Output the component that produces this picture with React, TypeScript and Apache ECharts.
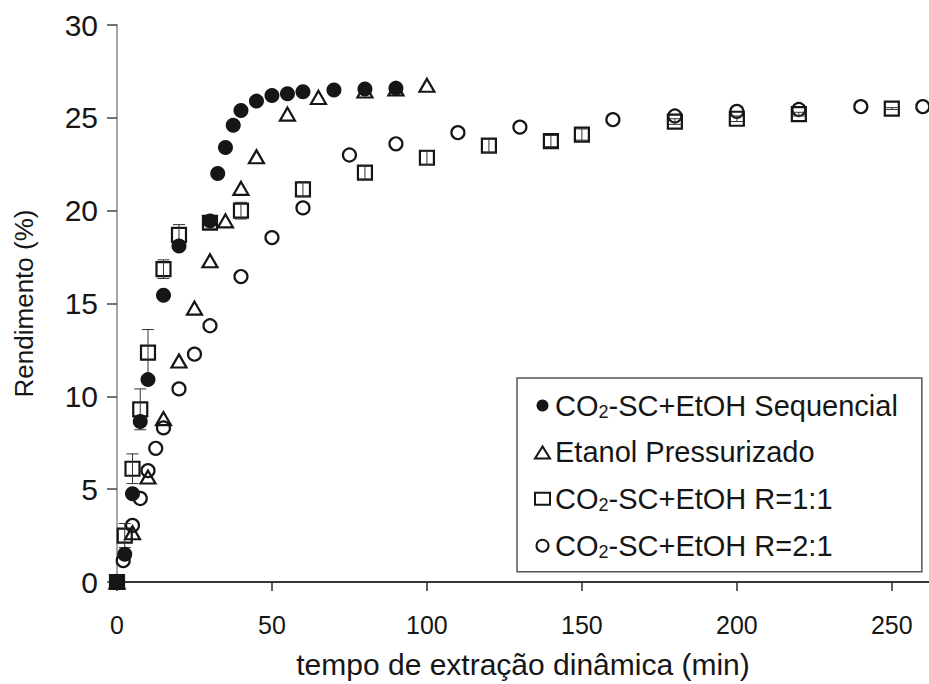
import React, { useEffect, useRef } from "react";
import * as echarts from "echarts";

// Extraction time (min) and yield (%) for each extraction method
const tSequencial = [0, 2.5, 5, 7.5, 10, 15, 20, 30, 32.5, 35, 37.5, 40, 45, 50, 55, 60, 70, 80, 90];
const ySequencial = [0, 1.5, 4.75, 8.65, 10.9, 15.45, 18.1, 19.45, 22.0, 23.4, 24.6, 25.4, 25.9, 26.2, 26.3, 26.4, 26.5, 26.55, 26.6];

const tEtanol = [0, 5, 10, 15, 20, 25, 30, 35, 40, 45, 55, 65, 80, 90, 100];
const yEtanol = [0, 2.65, 5.65, 8.8, 11.9, 14.75, 17.3, 19.45, 21.2, 22.9, 25.2, 26.1, 26.45, 26.55, 26.75];

const tR11 = [0, 2.5, 5, 7.5, 10, 15, 20, 30, 40, 60, 80, 100, 120, 140, 150, 180, 200, 220, 250];
const yR11 = [0, 2.5, 6.1, 9.3, 12.35, 16.85, 18.7, 19.35, 20.0, 21.15, 22.05, 22.85, 23.5, 23.75, 24.1, 24.8, 24.95, 25.2, 25.5];
const errR11 = [0, 0.65, 0.8, 1.1, 1.25, 0.5, 0.55, 0.3, 0.45, 0.4, 0.35, 0.35, 0.35, 0.3, 0.3, 0.15, 0.15, 0.1, 0.05];

const tR21 = [0, 2, 5, 7.5, 10, 12.5, 15, 20, 25, 30, 40, 50, 60, 75, 90, 110, 130, 160, 180, 200, 220, 240, 260];
const yR21 = [0, 1.15, 3.05, 4.5, 6.0, 7.2, 8.3, 10.4, 12.27, 13.8, 16.45, 18.55, 20.15, 23.0, 23.6, 24.2, 24.5, 24.9, 25.1, 25.35, 25.45, 25.6, 25.6];

const seriesNames = [
  "CO2-SC+EtOH Sequencial",
  "Etanol Pressurizado",
  "CO2-SC+EtOH R=1:1",
  "CO2-SC+EtOH R=2:1",
];

const xTickValues = [0, 50, 100, 150, 200, 250];
const xRange = { min: 0, max: 262 };
const yTicks = { min: 0, max: 30, interval: 5 };

const INK = "#161616";
const FONT = "'Liberation Sans', Arial, sans-serif";

const pairs = (xs: number[], ys: number[]) => xs.map((x, i) => [x, ys[i]]);

export default function App() {
  const ref = useRef<HTMLDivElement>(null);

  useEffect(() => {
    if (!ref.current) return;
    const chart = echarts.init(ref.current, null, { renderer: "svg" });

    const errData = tR11
      .map((t, i) => [t, yR11[i] - errR11[i], yR11[i] + errR11[i]])
      .filter((d, i) => errR11[i] > 0);

    // at the origin all four series coincide and read as one solid square
    const r11Data = pairs(tR11, yR11).map((p) =>
      p[0] === 0 && p[1] === 0 ? { value: p, itemStyle: { color: INK } } : p
    );

    const openStyle = { color: "transparent", borderColor: INK, borderWidth: 2.2, opacity: 1 };

    const option: any = {
      animation: false,
      backgroundColor: "#ffffff",
      grid: { left: 117, top: 25, right: 0, bottom: 96, containLabel: false },
      xAxis: [
        {
          type: "value",
          min: xRange.min,
          max: xRange.max,
          interval: 50,
          name: "tempo de extração dinâmica (min)",
          nameLocation: "middle",
          nameGap: 67,
          nameTextStyle: { fontFamily: FONT, fontSize: 30, color: INK },
          axisLine: { show: true, onZero: false, lineStyle: { color: "#2a2a2a", width: 1.5 } },
          axisTick: {
            show: true,
            inside: false,
            length: 9,
            customValues: xTickValues,
            lineStyle: { color: "#2a2a2a", width: 1.5 },
          },
          axisLabel: {
            margin: 30,
            fontFamily: FONT,
            fontSize: 25,
            color: INK,
            customValues: xTickValues,
          },
          splitLine: { show: false },
        },
        {
          type: "value",
          position: "top",
          min: xRange.min,
          max: xRange.max,
          axisLine: { show: true, lineStyle: { color: "#2a2a2a", width: 1.5 } },
          axisTick: { show: false },
          axisLabel: { show: false },
          splitLine: { show: false },
        },
      ],
      yAxis: {
        type: "value",
        min: yTicks.min,
        max: yTicks.max,
        interval: yTicks.interval,
        name: "Rendimento (%)",
        nameLocation: "middle",
        nameGap: 80,
        nameRotate: 90,
        nameTextStyle: { fontFamily: FONT, fontSize: 26, color: INK },
        axisLine: { show: true, onZero: false, lineStyle: { color: "#8a8a8a", width: 1.5 } },
        axisTick: { show: true, inside: false, length: 10, lineStyle: { color: "#444", width: 1.5 } },
        axisLabel: { margin: 19, fontFamily: FONT, fontSize: 30, color: INK },
        splitLine: { show: false },
      },
      legend: {
        orient: "vertical",
        left: 517,
        top: 378,
        padding: [13, 24, 11, 17],
        itemGap: 17.4,
        itemWidth: 15,
        itemHeight: 12,
        borderColor: "#555",
        borderWidth: 1.5,
        backgroundColor: "#ffffff",
        data: seriesNames,
        formatter: (name: string) =>
          name.startsWith("CO2")
            ? `{n|CO}{s|2}{n|${name.slice(3)}}`
            : `{n|${name}}`,
        textStyle: {
          fontFamily: FONT,
          fontSize: 29,
          color: INK,
          rich: {
            n: { fontFamily: FONT, fontSize: 29, color: INK, lineHeight: 30 },
            s: { fontFamily: FONT, fontSize: 18, color: INK, lineHeight: 10, verticalAlign: "bottom" },
          },
        },
      },
      series: [
        {
          name: seriesNames[2],
          type: "scatter",
          symbol: "rect",
          symbolSize: 14,
          itemStyle: openStyle,
          data: r11Data,
          z: 2,
        },
        {
          name: "erro",
          type: "custom",
          encode: { x: 0, y: [1, 2] },
          data: errData,
          z: 3,
          silent: true,
          renderItem: (params: any, api: any) => {
            const x = api.value(0);
            const lo = api.coord([x, api.value(1)]);
            const hi = api.coord([x, api.value(2)]);
            const w = 6;
            const style = { stroke: "#333", lineWidth: 1 };
            return {
              type: "group",
              children: [
                { type: "line", shape: { x1: lo[0], y1: lo[1], x2: hi[0], y2: hi[1] }, style },
                { type: "line", shape: { x1: hi[0] - w, y1: hi[1], x2: hi[0] + w, y2: hi[1] }, style },
                { type: "line", shape: { x1: lo[0] - w, y1: lo[1], x2: lo[0] + w, y2: lo[1] }, style },
              ],
            };
          },
        },
        {
          name: seriesNames[3],
          type: "scatter",
          symbol: "circle",
          symbolSize: 13,
          itemStyle: openStyle,
          data: pairs(tR21, yR21),
          z: 2,
        },
        {
          name: seriesNames[1],
          type: "scatter",
          symbol: "triangle",
          symbolSize: [15, 13],
          itemStyle: openStyle,
          data: pairs(tEtanol, yEtanol),
          z: 2,
        },
        {
          name: seriesNames[0],
          type: "scatter",
          symbol: "circle",
          symbolSize: 15,
          itemStyle: { color: INK, borderColor: INK, borderWidth: 0, opacity: 1 },
          data: pairs(tSequencial, ySequencial),
          z: 4,
        },
      ],
    };

    chart.setOption(option);
    return () => chart.dispose();
  }, []);

  return (
    <div
      ref={ref}
      style={{ position: "fixed", left: 0, top: 0, width: 929, height: 684, background: "#fff" }}
    />
  );
}
